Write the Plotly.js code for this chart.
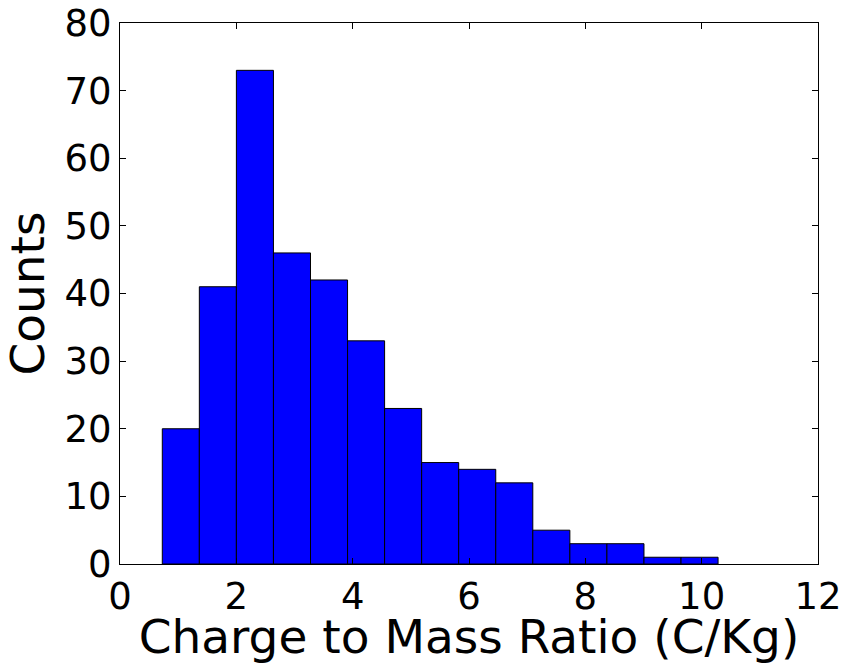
<!DOCTYPE html>
<html>
<head>
<meta charset="utf-8">
<script src="https://cdn.plot.ly/plotly-3.0.1.min.js"></script>
<style>html,body{margin:0;padding:0;background:#fff;}</style>
</head>
<body>
<div id="chart" style="width:843px;height:664px;"></div>
<script>
const counts = [20, 41, 73, 46, 42, 33, 23, 15, 14, 12, 5, 3, 3, 1, 1];
const binStart = 0.727;
const binWidth = 0.637;
const xTickVals = [0, 2, 4, 6, 8, 10, 12];
const yTickVals = [0, 10, 20, 30, 40, 50, 60, 70, 80];

const centers = counts.map((c, i) => binStart + binWidth * (i + 0.5));

const trace = {
  type: 'bar',
  x: centers,
  y: counts,
  width: counts.map(() => binWidth),
  marker: {color: '#0000ff', line: {color: '#000000', width: 1}},
  hoverinfo: 'x+y'
};

const FAM = 'DejaVu Sans, sans-serif';
const layout = {
  width: 843, height: 664,
  margin: {l: 120, r: 25, t: 23, b: 100},
  paper_bgcolor: '#fff', plot_bgcolor: '#fff',
  showlegend: false,
  bargap: 0,
  font: {family: FAM, color: '#000'},
  xaxis: {
    range: [0, 12], tickvals: xTickVals, ticktext: xTickVals.map(String),
    ticks: 'inside', ticklen: 6, tickcolor: '#000', mirror: 'ticks',
    showline: true, linecolor: '#000', linewidth: 1, showgrid: false, zeroline: false,
    tickfont: {family: FAM, size: 37, color: '#000'},
    title: {text: 'Charge to Mass Ratio (C/Kg)', font: {family: FAM, size: 47, color: '#000'}, standoff: 3}
  },
  yaxis: {
    range: [0, 80], tickvals: yTickVals, ticktext: yTickVals.map(String),
    ticks: 'inside', ticklen: 6, tickcolor: '#000', mirror: 'ticks',
    showline: true, linecolor: '#000', linewidth: 1, showgrid: false, zeroline: false,
    tickfont: {family: FAM, size: 37, color: '#000'},
    title: {text: 'Counts', font: {family: FAM, size: 47, color: '#000'}, standoff: 10}
  }
};

Plotly.newPlot('chart', [trace], layout, {displayModeBar: false, staticPlot: true});
</script>
</body>
</html>
